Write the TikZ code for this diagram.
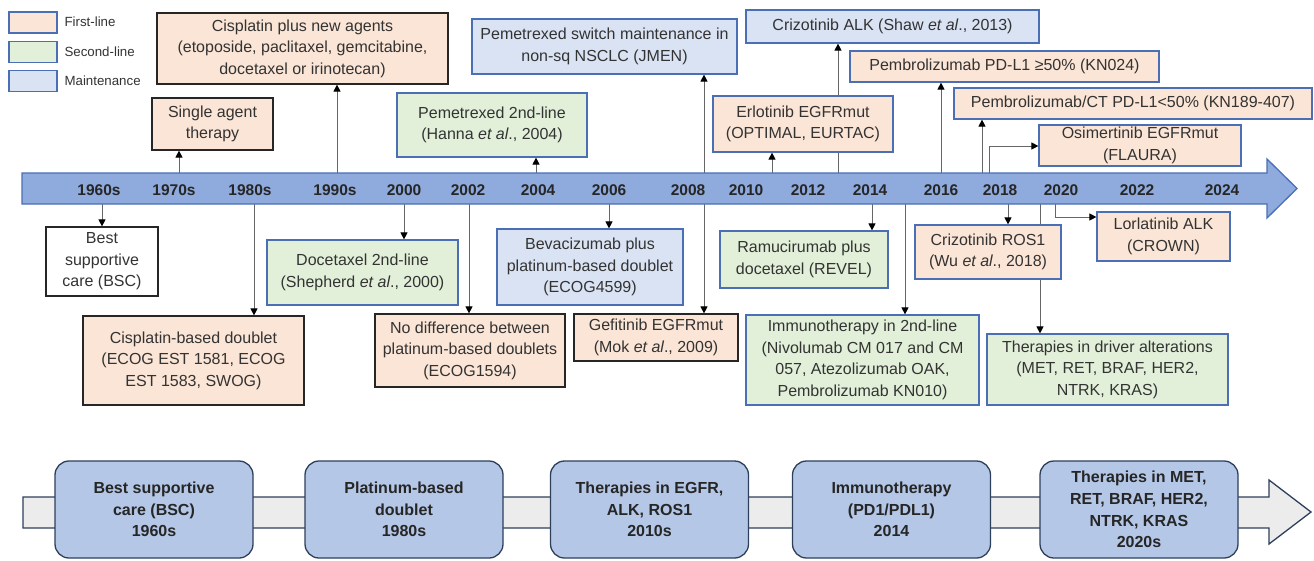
\documentclass[tikz,border=0pt]{standalone}
\usepackage{fontspec}
\setmainfont{Liberation Sans}
\usetikzlibrary{arrows.meta}
\definecolor{peach}{HTML}{FBE5D6}
\definecolor{mint}{HTML}{E2F0D9}
\definecolor{lblue}{HTML}{DAE3F3}
\definecolor{bdblue}{HTML}{4A6FB5}
\definecolor{barfill}{HTML}{8FAADC}
\definecolor{barline}{HTML}{4A6FB5}
\definecolor{navy}{HTML}{2E3F5C}
\definecolor{stagefill}{HTML}{B4C7E7}
\definecolor{bandfill}{HTML}{ECECEC}
\definecolor{txt}{HTML}{333333}
\definecolor{conline}{HTML}{666666}
\pgfdeclarelayer{background}
\pgfsetlayers{background,main}
\newcommand\evt[7]{\node[#1, minimum width={(#5-#3)*1pt}, minimum height={(#6-#4)*1pt}] (#2) at ({(#3+#5)/2},{(#4+#6)/2}) {#7};}
\newcommand\upto[2]{\coordinate (u-#2) at (#1,173); \draw[con] (u-#2) -- (u-#2 |- #2.south);}
\newcommand\downto[2]{\coordinate (d-#2) at (#1,204); \draw[con] (d-#2) -- (d-#2 |- #2.north);}
\begin{document}
\begin{tikzpicture}[x=1pt,y=-1pt,
  evbox/.style={line width=1.2pt, inner sep=0pt, align=center, text=txt, font=\fontsize{16}{21.6}\selectfont},
  firstk/.style={evbox, fill=peach, draw=black!85},
  firstb/.style={evbox, fill=peach, draw=bdblue},
  secondb/.style={evbox, fill=mint, draw=bdblue},
  maintb/.style={evbox, fill=lblue, draw=bdblue},
  whitek/.style={evbox, fill=white, draw=black!85},
  swatch/.style={draw=bdblue, line width=1.5pt, minimum width=48pt, minimum height=21pt, inner sep=0pt},
  legtext/.style={anchor=west, text=txt, font=\fontsize{13.3}{16}\selectfont},
  year/.style={text=black!85, font=\fontsize{15.5}{18}\selectfont\bfseries},
  con/.style={draw=conline, line width=1pt, -{Triangle[length=7pt,width=7pt,color=black]}},
  stage/.style={rounded corners=14pt, fill=stagefill, draw=navy, line width=1.3pt, minimum width=198pt, minimum height=97pt, align=center, text=black!85, font=\fontsize{16}{21.6}\selectfont\bfseries}
]
\useasboundingbox (0,0) rectangle (1314,560);

% legend
\node[swatch, fill=peach] (lg1) at (33,22.5) {};
\node[swatch, fill=mint] (lg2) at (33,52) {};
\node[swatch, fill=lblue] (lg3) at (33,81) {};
\node[legtext] (lt1) at (61,22) {First-line};
\node[legtext] (lt2) at (61,51.5) {Second-line};
\node[legtext] (lt3) at (61,80.5) {Maintenance};

% main timeline arrow
\draw[fill=barfill, draw=barline, line width=1.3pt]
  (22,173) -- (1267,173) -- (1267,159) -- (1297,188.5) -- (1267,218) -- (1267,204) -- (22,204) -- cycle;
\foreach \x/\t in {99/1960s,174/1970s,250/1980s,335/1990s,404/2000,468/2002,538/2004,609/2006,688/2008,746/2010,808/2012,870/2014,941/2016,1000/2018,1061/2020,1137/2022,1222/2024}
  \node[year] (yr\t) at (\x,190) {\t};

% events above
\evt{firstk}{cisnew}{157}{13}{448}{84}{Cisplatin plus new agents\\(etoposide, paclitaxel, gemcitabine,\\docetaxel or irinotecan)}
\evt{firstk}{single}{152}{98}{273}{150}{Single agent\\therapy}
\evt{secondb}{pem2}{397}{93}{587}{157}{Pemetrexed 2nd-line\\(Hanna \textit{et al}., 2004)}
\evt{maintb}{jmen}{472}{19}{737}{74}{Pemetrexed switch maintenance in\\non-sq NSCLC (JMEN)}
\evt{maintb}{crizalk}{746}{10}{1039}{43}{Crizotinib ALK (Shaw \textit{et al}., 2013)}
\evt{firstb}{erlo}{713}{96}{893}{152}{Erlotinib EGFRmut\\(OPTIMAL, EURTAC)}
\evt{firstb}{kn024}{850}{51}{1159}{82}{Pembrolizumab PD-L1 ≥50\% (KN024)}
\evt{firstb}{kn189}{954}{88}{1312}{119}{Pembrolizumab/CT PD-L1<50\% (KN189-407)}
\evt{firstb}{osim}{1039}{125}{1241}{166}{Osimertinib EGFRmut\\(FLAURA)}

% events below
\evt{whitek}{bsc}{46}{227}{158}{296}{Best\\supportive\\care (BSC)}
\evt{firstk}{cisdbl}{83}{316}{304}{405}{Cisplatin-based doublet\\(ECOG EST 1581, ECOG\\EST 1583, SWOG)}
\evt{secondb}{doce}{267}{240}{458}{305}{Docetaxel 2nd-line\\(Shepherd \textit{et al}., 2000)}
\evt{firstk}{nodiff}{375}{314}{565}{387}{No difference between\\platinum-based doublets\\(ECOG1594)}
\evt{maintb}{beva}{497}{229}{683}{305}{Bevacizumab plus\\platinum-based doublet\\(ECOG4599)}
\evt{firstk}{gefi}{574}{314}{738}{361}{Gefitinib EGFRmut\\(Mok \textit{et al}., 2009)}
\evt{secondb}{ramu}{720}{231}{888}{288}{Ramucirumab plus\\docetaxel (REVEL)}
\evt{secondb}{immuno}{746}{315}{979}{405}{Immunotherapy in 2nd-line\\(Nivolumab CM 017 and CM\\057, Atezolizumab OAK,\\Pembrolizumab KN010)}
\evt{firstb}{crizros}{915}{225}{1061}{279}{Crizotinib ROS1\\(Wu \textit{et al}., 2018)}
\evt{secondb}{driver}{987}{334}{1228}{405}{Therapies in driver alterations\\(MET, RET, BRAF, HER2,\\NTRK, KRAS)}
\evt{firstb}{lorla}{1097}{212}{1230}{261}{Lorlatinib ALK\\(CROWN)}

% connectors
\begin{pgfonlayer}{background}
\upto{179}{single}
\upto{337}{cisnew}
\upto{536}{pem2}
\upto{704}{jmen}
\upto{772}{erlo}
\upto{838}{crizalk}
\upto{941}{kn024}
\upto{982}{kn189}
\coordinate (u-osim) at (989,173);
\draw[con] (u-osim) |- (osim.west |- 0,146);
\downto{102}{bsc}
\downto{254}{cisdbl}
\downto{404}{doce}
\downto{469}{nodiff}
\downto{609}{beva}
\downto{704}{gefi}
\downto{872}{ramu}
\downto{905}{immuno}
\downto{1008}{crizros}
\downto{1040}{driver}
\coordinate (d-lorla) at (1055,204);
\draw[con] (d-lorla) |- (lorla.west |- 0,217);
\end{pgfonlayer}

% bottom summary band
\draw[fill=bandfill, draw=navy, line width=1.3pt]
  (23,497) -- (1269,497) -- (1269,480) -- (1311,512) -- (1269,544) -- (1269,528) -- (23,528) -- cycle;
\node[stage] (s1) at (154,509.5) {Best supportive\\care (BSC)\\1960s};
\node[stage] (s2) at (404,509.5) {Platinum-based\\doublet\\1980s};
\node[stage] (s3) at (649.5,509.5) {Therapies in EGFR,\\ALK, ROS1\\2010s};
\node[stage] (s4) at (891.5,509.5) {Immunotherapy\\(PD1/PDL1)\\2014};
\node[stage] (s5) at (1139,509.5) {Therapies in MET,\\RET, BRAF, HER2,\\NTRK, KRAS\\2020s};
\end{tikzpicture}
\end{document}
